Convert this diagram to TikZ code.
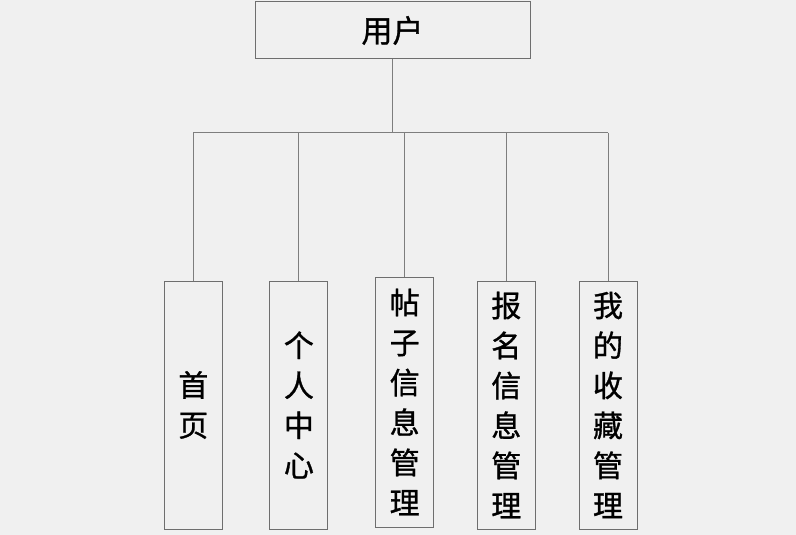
\documentclass[tikz,border=0pt]{standalone}
\usepackage{fontspec}
\newfontfamily\cjk[FakeBold=1]{Noto Sans CJK SC}
\definecolor{bgcolor}{HTML}{F0F0F0}
\definecolor{boxgray}{HTML}{6E6E6E}
\definecolor{linegray}{HTML}{7E7E7E}
\begin{document}
\begin{tikzpicture}[x=1pt,y=-1pt,
  box/.style={draw=boxgray, line width=1pt, inner sep=0pt, align=center,
    font=\cjk\fontsize{30pt}{40pt}\selectfont},
  leaf/.style={box, minimum width=58pt, minimum height=248pt},
  link/.style={draw=linegray, line width=1pt}]
\fill[bgcolor] (0,0) rectangle (796,535);
\useasboundingbox (0,0) rectangle (796,535);
\node[box, minimum width=275pt, minimum height=57pt, font=\cjk\fontsize{31pt}{40pt}\selectfont] (user) at (392.5,30.5) {用户};
\node[leaf] (home) at (193.3,405) {首\\页};
\node[leaf] (center) at (298.9,405) {个\\人\\中\\心};
\node[leaf, minimum height=250pt] (post) at (404.7,402) {帖\\子\\信\\息\\管\\理};
\node[leaf] (signup) at (506.3,405) {报\\名\\信\\息\\管\\理};
\node[leaf] (fav) at (608,405) {我\\的\\收\\藏\\管\\理};
\coordinate (bus) at (393,132.5);
\draw[link] (user.south) -- (user.south |- bus);
\draw[link] (home.north |- bus) -- (fav.north |- bus);
\foreach \n in {home,center,post,signup,fav}
  \draw[link] (\n.north |- bus) -- (\n.north);
\end{tikzpicture}
\end{document}
